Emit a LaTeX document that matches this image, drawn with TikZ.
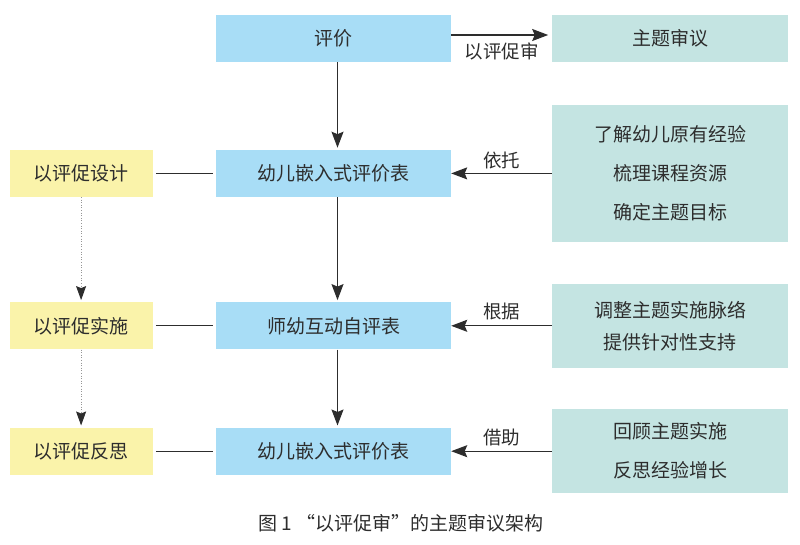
\documentclass[tikz,border=0pt]{standalone}
\usepackage{fontspec}
\setmainfont{Noto Sans CJK SC}
\usepackage{tikz}
\usetikzlibrary{arrows.meta,positioning}
\definecolor{boxblue}{RGB}{168,221,246}
\definecolor{boxteal}{RGB}{196,228,226}
\definecolor{boxyellow}{RGB}{250,243,170}
\definecolor{inkgray}{RGB}{45,45,45}
\definecolor{dotgray}{RGB}{150,150,150}

\begin{document}
\begin{tikzpicture}[
    x=1pt, y=1pt,
    every node/.style={text=inkgray, font=\fontsize{19}{39}\selectfont},
    stagebox/.style={fill=boxblue, minimum width=235pt, minimum height=47pt, inner sep=0pt, align=center},
    goalbox/.style={fill=boxyellow, minimum width=143pt, minimum height=47pt, inner sep=0pt, align=center},
    basisbox/.style={fill=boxteal, minimum width=236pt, minimum height=84pt, inner sep=0pt, align=center},
    tag/.style={inner sep=0pt, font=\fontsize{18.5}{22}\selectfont},
    arrow/.style={-{Stealth[length=16pt, width=12pt, inset=2.5pt]}, line width=1.2pt, draw=inkgray},
    link/.style={line width=1.2pt, draw=inkgray, shorten <=3pt, shorten >=3pt},
    dotarrow/.style={-{Stealth[length=14pt, width=10pt, inset=2pt, color=inkgray]}, line width=1pt, draw=dotgray, dash pattern=on 1pt off 1.6pt, shorten >=2pt}
]
\useasboundingbox (0,0) rectangle (800,-545);

% Top: evaluation and theme review
\node[stagebox] (eval) at (333.5,-38.5) {评价};
\node[basisbox, minimum height=47pt, right=101pt of eval] (theme) {主题审议};

% Row 1: design
\node[stagebox, below=87.5pt of eval] (embfirst) {幼儿嵌入式评价表};
\node[goalbox, left=63pt of embfirst] (design) {以评促设计};
\node[basisbox, minimum height=136.5pt, right=101pt of embfirst] (basisfirst) {了解幼儿原有经验\\梳理课程资源\\确定主题目标};

% Row 2: implementation
\node[stagebox, below=105pt of embfirst] (peer) {师幼互动自评表};
\node[goalbox, left=63pt of peer] (implement) {以评促实施};
\node[basisbox, right=101pt of peer] (basissecond) {调整主题实施脉络\\[-7pt]提供针对性支持};

% Row 3: reflection
\node[stagebox, below=78pt of peer] (embsecond) {幼儿嵌入式评价表};
\node[goalbox, left=63pt of embsecond] (reflect) {以评促反思};
\node[basisbox, right=101pt of embsecond] (basisthird) {回顾主题实施\\反思经验增长};

% Caption
\node[tag, font=\fontsize{19}{22}\selectfont] (caption) at (401,-523) {图 1 “以评促审”的主题审议架构};

% Arrows
\draw[arrow, shorten >=4pt] ([yshift=3.5pt]eval.east) -- node[tag, below=7.5pt] {以评促审} ([yshift=3.5pt]theme.west);
\draw[arrow, shorten >=2pt] ([xshift=4pt]eval.south) -- ([xshift=4pt]embfirst.north);
\draw[arrow, shorten >=2pt] ([xshift=4pt]embfirst.south) -- ([xshift=4pt]peer.north);
\draw[arrow, shorten >=2pt] ([xshift=4pt]peer.south) -- ([xshift=4pt]embsecond.north);
\draw[arrow] (basisfirst) -- node[tag, above=4pt] {依托} (embfirst);
\draw[arrow] (basissecond) -- node[tag, above=5pt] {根据} (peer);
\draw[arrow] (basisthird) -- node[tag, above=5pt] {借助} (embsecond);
\draw[link] (design) -- (embfirst);
\draw[link] (implement) -- (peer);
\draw[link] (reflect) -- (embsecond);
\draw[dotarrow] (design) -- (implement);
\draw[dotarrow] (implement) -- (reflect);

\end{tikzpicture}
\end{document}
